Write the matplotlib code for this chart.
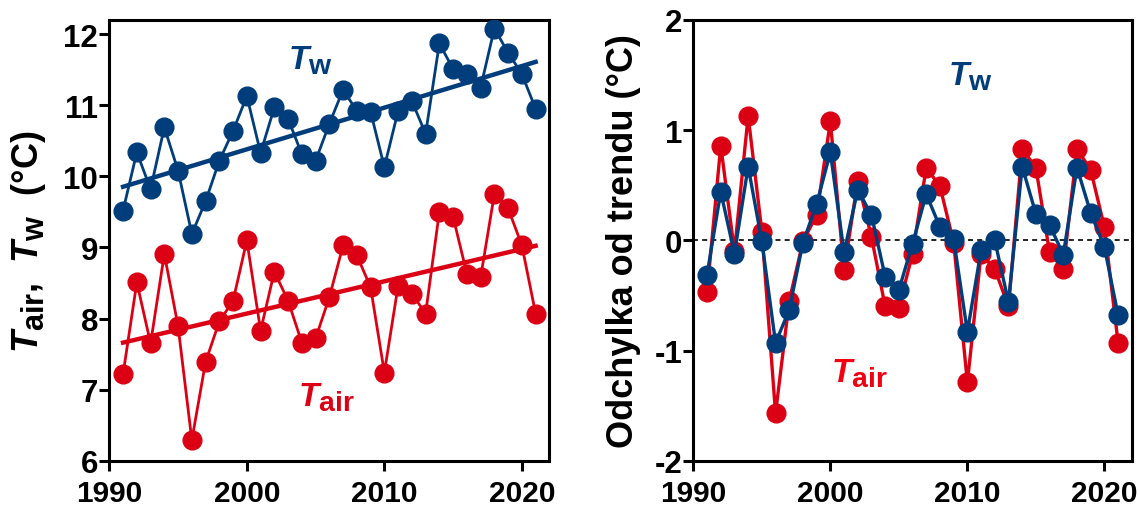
import numpy as np
import matplotlib
matplotlib.use("Agg")
import matplotlib.pyplot as plt
import matplotlib._mathtext as mathtext_impl

plt.rcParams['font.family'] = ['Liberation Sans', 'DejaVu Sans']
plt.rcParams['font.weight'] = 'bold'
plt.rcParams['mathtext.fontset'] = 'custom'
plt.rcParams['mathtext.it'] = 'Liberation Sans:italic:bold'
plt.rcParams['mathtext.rm'] = 'Liberation Sans:bold'
plt.rcParams['mathtext.bf'] = 'Liberation Sans:bold'
# indeksy dolne w oryginale są tylko trochę mniejsze od litery T
mathtext_impl.SHRINK_FACTOR = 0.85

# roczne średnie (°C)
years = np.arange(1991, 2022)
t_w = [9.52, 10.34, 9.82, 10.69, 10.08, 9.19, 9.65, 10.22, 10.64, 11.13,
       10.33, 10.97, 10.81, 10.31, 10.22, 10.74, 11.22, 10.92, 10.91, 10.13,
       10.92, 11.06, 10.60, 11.87, 11.51, 11.44, 11.25, 12.08, 11.74, 11.44,
       10.95]
t_air = [7.22, 8.51, 7.65, 8.91, 7.89, 6.29, 7.39, 7.96, 8.25, 9.10,
         7.83, 8.66, 8.25, 7.66, 7.72, 8.30, 9.03, 8.89, 8.44, 7.24,
         8.46, 8.35, 8.07, 9.50, 9.43, 8.63, 8.58, 9.75, 9.55, 9.03,
         8.07]

# odchylki od trendu (°C)
dev_w = [-0.31, 0.44, -0.12, 0.67, -0.01, -0.93, -0.63, -0.02, 0.33, 0.80,
         -0.11, 0.46, 0.23, -0.33, -0.45, -0.03, 0.42, 0.12, 0.01, -0.83,
         -0.09, 0.00, -0.56, 0.67, 0.24, 0.14, -0.13, 0.66, 0.25, -0.06,
         -0.68]
dev_air = [-0.47, 0.86, -0.10, 1.13, 0.08, -1.57, -0.55, -0.01, 0.23, 1.08,
           -0.27, 0.54, 0.03, -0.60, -0.61, -0.12, 0.66, 0.49, -0.02, -1.29,
           -0.12, -0.26, -0.60, 0.83, 0.66, -0.11, -0.26, 0.83, 0.64, 0.12,
           -0.93]

BLUE = '#003D7A'
RED = '#DC0014'

fig = plt.figure(figsize=(11.4, 5.06), dpi=100)
ax1 = fig.add_axes([0.0959, 0.0875, 0.386, 0.871])
ax2 = fig.add_axes([0.6082, 0.0875, 0.3846, 0.871])


def style_axis(ax):
    for sp in ax.spines.values():
        sp.set_linewidth(2.2)
    ax.tick_params(axis='both', direction='out', length=7, width=2.2)
    ax.tick_params(axis='x', labelsize=21.5, pad=6)
    ax.tick_params(axis='y', labelsize=22.5, pad=1)
    for lab in ax.get_xticklabels() + ax.get_yticklabels():
        lab.set_fontweight('bold')


# --- lewy panel: temperatury ---
for vals, col in [(t_w, BLUE), (t_air, RED)]:
    ax1.plot(years, vals, '-o', color=col, lw=2.0, ms=13.5, zorder=3)
    a, b = np.polyfit(years, vals, 1)
    ax1.plot(years[[0, -1]], a * years[[0, -1]] + b, '-', color=col,
             lw=3.2, zorder=4)

ax1.set_xlim(1990, 2022)
ax1.set_ylim(6, 12.2)
ax1.set_xticks([1990, 2000, 2010, 2020])
ax1.set_yticks(range(6, 13))
ax1.set_ylabel(r'$T_{\mathrm{air}}$,  $T_{\mathrm{w}}$  (°C)', fontsize=26,
               fontweight='bold', labelpad=11)
ax1.text(2003.0, 11.51, r'$T_{\mathrm{w}}$', color=BLUE, fontsize=24,
         ha='left', va='baseline')
ax1.text(2003.7, 6.78, r'$T_{\mathrm{air}}$', color=RED, fontsize=24,
         ha='left', va='baseline')
style_axis(ax1)

# --- prawy panel: odchylki od trendu ---
ax2.axhline(0, color='black', lw=1.2, ls=(0, (3, 2.5)), zorder=1)
ax2.plot(years, dev_air, '-o', color=RED, lw=2.4, ms=13.5, zorder=2)
ax2.plot(years, dev_w, '-o', color=BLUE, lw=2.4, ms=13.5, zorder=3)
ax2.set_xlim(1990, 2022)
ax2.set_ylim(-2, 2)
ax2.set_xticks([1990, 2000, 2010, 2020])
ax2.set_yticks([-2, -1, 0, 1, 2])
ax2.set_yticklabels(['-2', '-1', '0', '1', '2'])
ax2.set_ylabel('Odchylka od trendu (°C)', fontsize=26, fontweight='bold',
               labelpad=10)
ax2.text(2008.55, 1.415, r'$T_{\mathrm{w}}$', color=BLUE, fontsize=24,
         ha='left', va='baseline')
ax2.text(2000.08, -1.28, r'$T_{\mathrm{air}}$', color='#F00010', fontsize=24,
         ha='left', va='baseline')
style_axis(ax2)

fig.savefig('out.png', dpi=100)
